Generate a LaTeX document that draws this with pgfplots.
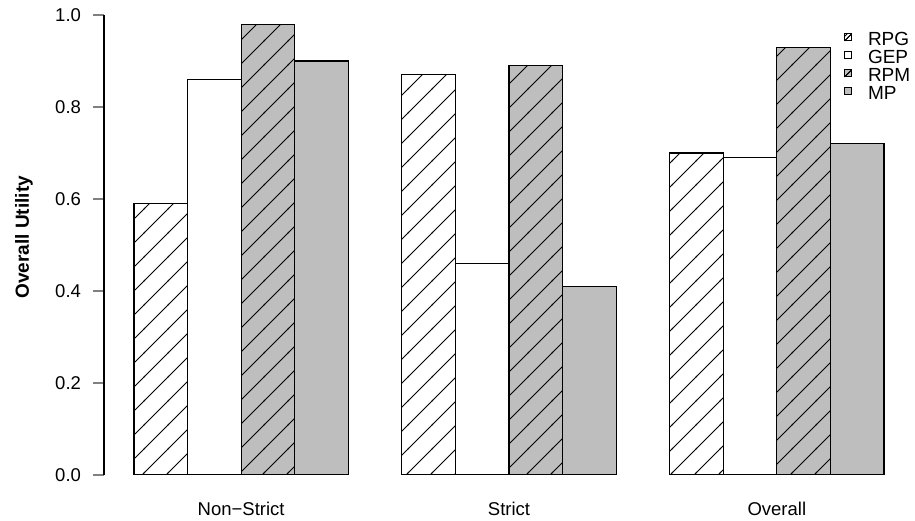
\documentclass[border=0pt]{standalone}
\usepackage{fontspec}
\setmainfont{Liberation Sans}
\usepackage{pgfplots}
\pgfplotsset{compat=1.18}
\usetikzlibrary{patterns}
\definecolor{rgray}{RGB}{190,190,190}
\newcommand{\fs}{\fontsize{18.5}{22}\selectfont}
\newcommand{\fl}{\fontsize{19}{22}\selectfont}
\pgfdeclarepatternformonly{mylines}{\pgfpoint{-1pt}{-1pt}}{\pgfpoint{25pt}{25pt}}{\pgfpoint{24pt}{24pt}}{
  \pgfsetlinewidth{0.9pt}
  \pgfpathmoveto{\pgfpoint{-1pt}{-1pt}}
  \pgfpathlineto{\pgfpoint{25pt}{25pt}}
  \pgfusepath{stroke}
}
\begin{document}
\begin{tikzpicture}
\begin{axis}[name=ax,
  scale only axis, width=810pt, height=460pt,
  xmin=0.44, xmax=15.56, ymin=0, ymax=1,
  axis y line*=left, axis x line*=bottom,
  x axis line style={draw=none},
  y axis line style={line width=1.1pt},
  xtick={3,8,13}, xticklabels={Non−Strict,Strict,Overall},
  xtick style={draw=none},
  xticklabel style={yshift=-12pt, font=\fs},
  ytick={0,0.2,0.4,0.6,0.8,1},
  ytick style={line width=1.1pt},
  yticklabel style={xshift=-8pt, font=\fs, /pgf/number format/.cd, fixed, fixed zerofill, precision=1, assume math mode=true},
  tick align=outside, major tick length=11.5pt,
  ylabel={Overall Utility},
  every axis y label/.style={at={(rel axis cs:0,0.517)}, xshift=-80pt, rotate=90, anchor=center, font=\fl\bfseries},
  ybar, bar width=1,
  legend style={at={(rel axis cs:0.9136,0.9665)}, anchor=north west, draw=none, fill=none,
    inner sep=0pt, row sep=2.4pt,
    nodes={inner sep=1pt, text height=13.6pt, text depth=0pt, font=\fl},
    /tikz/every odd column/.append style={column sep=15pt}},
  legend cell align=left,
]
\addplot[bar shift=0pt, draw=black, line width=1.1pt, fill=white,
  postaction={pattern=mylines},
  legend image code/.code={\draw[line width=0.8pt,fill=white] (0pt,-2.5pt) rectangle (7pt,4.5pt); \draw[line width=0.8pt] (0pt,-2.5pt) -- (7pt,4.5pt);}]
  coordinates {(1.5,0.59) (6.5,0.87) (11.5,0.70)};
\addlegendentry{RPG}
\addplot[bar shift=0pt, draw=black, line width=1.1pt, fill=white,
  legend image code/.code={\draw[line width=0.8pt,fill=white] (0pt,-2.5pt) rectangle (7pt,4.5pt);}]
  coordinates {(2.5,0.86) (7.5,0.46) (12.5,0.69)};
\addlegendentry{GEP}
\addplot[bar shift=0pt, draw=black, line width=1.1pt, fill=rgray,
  postaction={pattern=mylines},
  legend image code/.code={\draw[line width=0.8pt,fill=rgray] (0pt,-2.5pt) rectangle (7pt,4.5pt); \draw[line width=0.8pt] (0pt,-2.5pt) -- (7pt,4.5pt);}]
  coordinates {(3.5,0.98) (8.5,0.89) (13.5,0.93)};
\addlegendentry{RPM}
\addplot[bar shift=0pt, draw=black, line width=1.1pt, fill=rgray,
  legend image code/.code={\draw[line width=0.8pt,fill=rgray] (0pt,-2.5pt) rectangle (7pt,4.5pt);}]
  coordinates {(4.5,0.90) (9.5,0.41) (14.5,0.72)};
\addlegendentry{MP}
\end{axis}
\path ([xshift=-104pt,yshift=-46pt]ax.south west) rectangle ([xshift=1pt,yshift=15pt]ax.north east);
\end{tikzpicture}
\end{document}
